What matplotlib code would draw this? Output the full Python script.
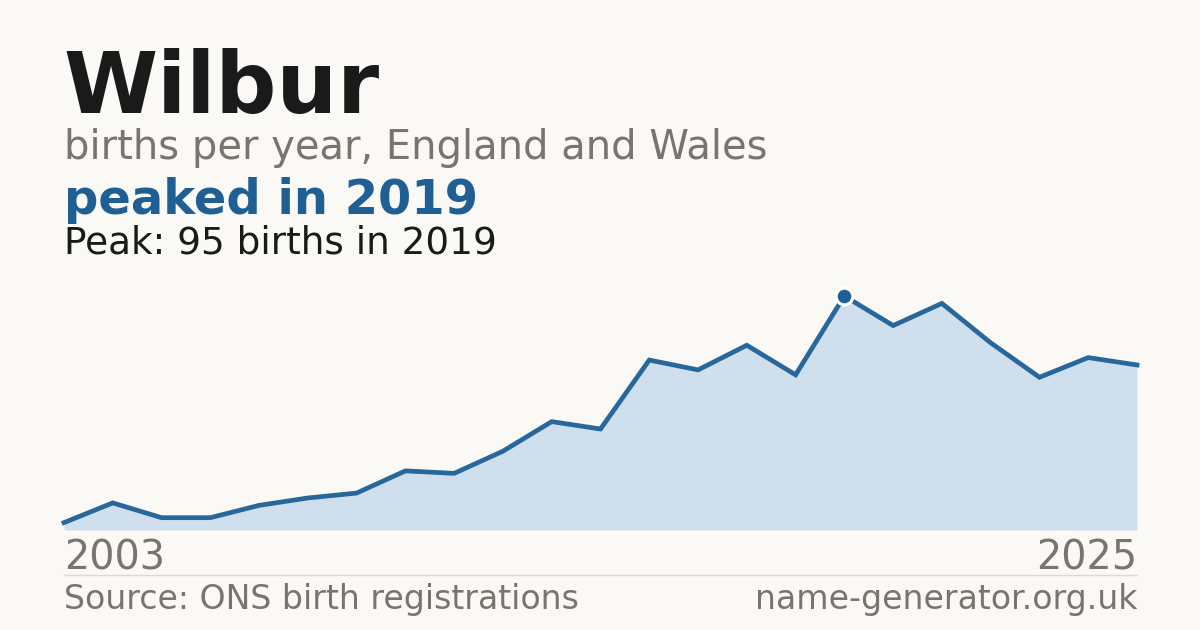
import numpy as np
import matplotlib
matplotlib.use("Agg")
from matplotlib import pyplot as plt

plt.rcParams['font.family'] = ['DejaVu Sans']

# data
years = list(range(2003, 2026))
births = [3, 11, 5, 5, 10, 13, 15, 24, 23, 32, 44, 41,
          69, 65, 75, 63, 95, 83, 92, 76, 62, 70, 67]
peak_year = 2019
peak_value = 95

name = "Wilbur"
subtitle = "births per year, England and Wales"
headline = "peaked in 2019"
peak_note = "Peak: 95 births in 2019"
source = "Source: ONS birth registrations"
site = "name-generator.org.uk"

bg = "#faf9f5"
blue = "#1f5f94"
line_blue = "#27679c"
fill = "#cfdfee"
grey = "#78746e"
dark = "#1a1a1a"

W, H = 1200, 630
fig = plt.figure(figsize=(W / 100, H / 100), dpi=100)
fig.patch.set_facecolor(bg)

def fx(px):
	return px / W

def fy(py):
	return 1 - py / H

fig.text(fx(63), fy(113), name, fontsize=61.5, fontweight="bold", color=dark,
         va="baseline", ha="left")
fig.text(fx(64), fy(159), subtitle, fontsize=28.8, color=grey, va="baseline", ha="left")
fig.text(fx(64), fy(214), headline, fontsize=34.6, fontweight="bold", color=blue,
         va="baseline", ha="left")
fig.text(fx(64), fy(254), peak_note, fontsize=26.9, color=dark, va="baseline", ha="left")

# chart area: baseline at y=530px, peak at y=296px
ax = fig.add_axes([fx(64), fy(530), fx(1137) - fx(64), (530 - 296) / H])
ax.set_facecolor("none")
ax.fill_between(years, births, 0, color=fill, linewidth=0, zorder=1)
ax.plot(years, births, color=line_blue, linewidth=3.4, solid_joinstyle="miter",
        clip_on=False, zorder=2)
ax.plot([peak_year], [peak_value], marker="o", markersize=12, color=blue,
        markeredgecolor="white", markeredgewidth=2.2, clip_on=False, zorder=3)
ax.set_xlim(years[0], years[-1])
ax.set_ylim(0, peak_value)
ax.axis("off")

fig.text(fx(64), fy(569), str(years[0]), fontsize=28.6, color=grey, va="baseline", ha="left")
fig.text(fx(1137), fy(569), str(years[-1]), fontsize=28.6, color=grey, va="baseline", ha="right")

fig.add_artist(plt.Line2D([fx(64), fx(1137)], [fy(574.5), fy(574.5)], color="#dddad3",
                          linewidth=1))

fig.text(fx(64), fy(609), source, fontsize=23.9, color=grey, va="baseline", ha="left")
fig.text(fx(1137), fy(609), site, fontsize=23.9, color=grey, va="baseline", ha="right")

fig.savefig("out.png", dpi=100, facecolor=bg)
